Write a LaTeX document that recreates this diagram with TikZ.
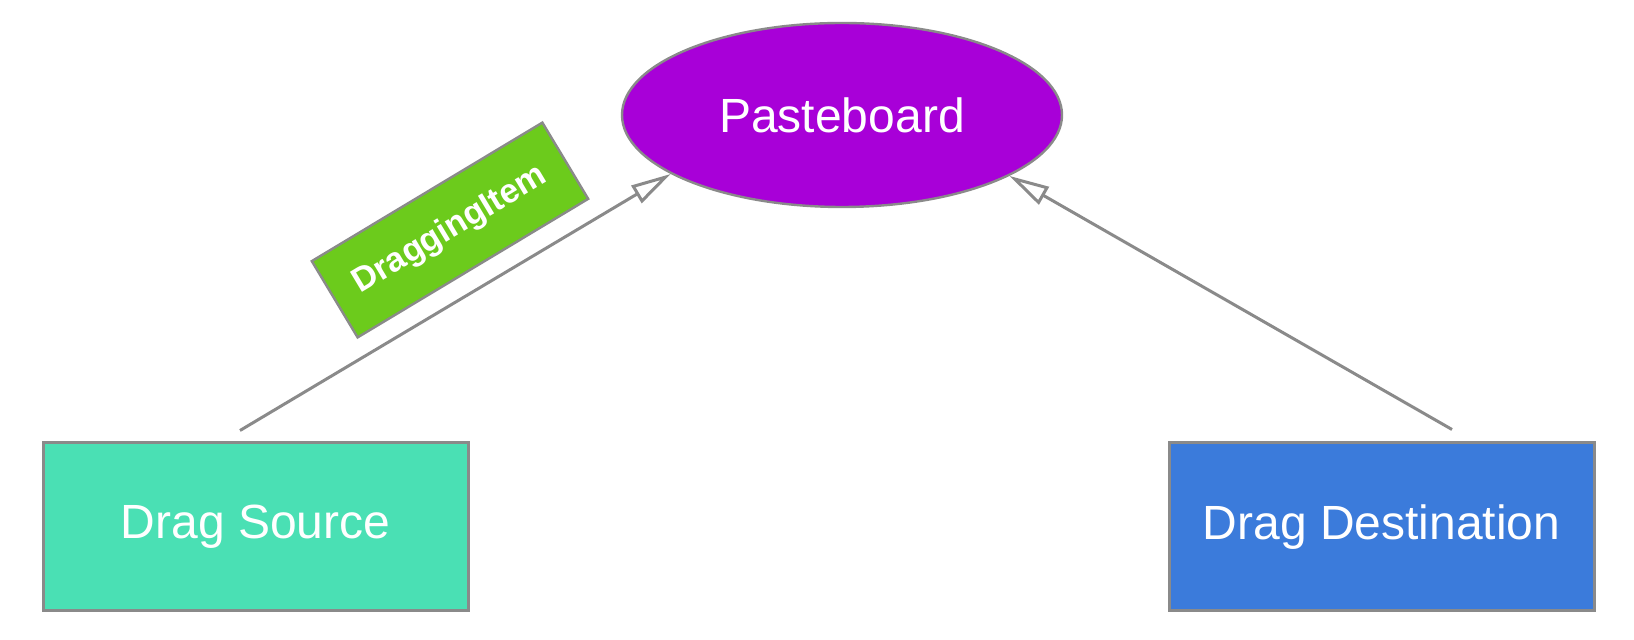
\documentclass[tikz,border=0pt]{standalone}
\usepackage{fontspec}
\setmainfont{Liberation Sans}
\usetikzlibrary{arrows.meta,shapes.geometric}
\definecolor{edgegray}{HTML}{8A8A8A}
\definecolor{srcfill}{HTML}{4AE0B4}
\definecolor{dstfill}{HTML}{3B7BDB}
\definecolor{pbfill}{HTML}{A800D8}
\definecolor{itemfill}{HTML}{6CCB1C}
\tikzset{
  box/.style={draw=edgegray, line width=1.5pt, minimum width=212.5pt, minimum height=84pt, inner sep=0pt, text=white, font=\fontsize{24}{28}\selectfont},
  oval/.style={ellipse, draw=edgegray, line width=1.2pt, minimum width=220pt, minimum height=92pt, inner sep=0pt, fill=pbfill, text=white, font=\fontsize{24}{28}\selectfont},
  tag/.style={draw=edgegray, line width=1.2pt, fill=itemfill, minimum width=134.5pt, minimum height=44.5pt, inner sep=0pt, text=white, font=\bfseries\fontsize{17}{20}\selectfont},
  link/.style={draw=edgegray, line width=1.5pt, -{Triangle[open, length=20pt, width=10pt, fill=white]}}
}
\begin{document}
\begin{tikzpicture}[x=0.5pt, y=-0.5pt]
\useasboundingbox (0,0) rectangle (1634,640);
\node[oval] (pb) at (842,115) {Pasteboard};
\node[box, fill=srcfill] (src) at (255.5,527) {Drag Source};
\node[box, fill=dstfill] (dst) at (1381.5,527) {Drag Destination};
\coordinate (s1) at ([shift={(-15.5,-11)}]src.north);
\coordinate (d1) at ([shift={(70.5,-12)}]dst.north);
\draw[link] (s1) -- (pb.199);
\draw[link] (d1) -- (pb.340.6);
\node[tag, rotate=31] (item) at (450,230) {DraggingItem};
\end{tikzpicture}
\end{document}
